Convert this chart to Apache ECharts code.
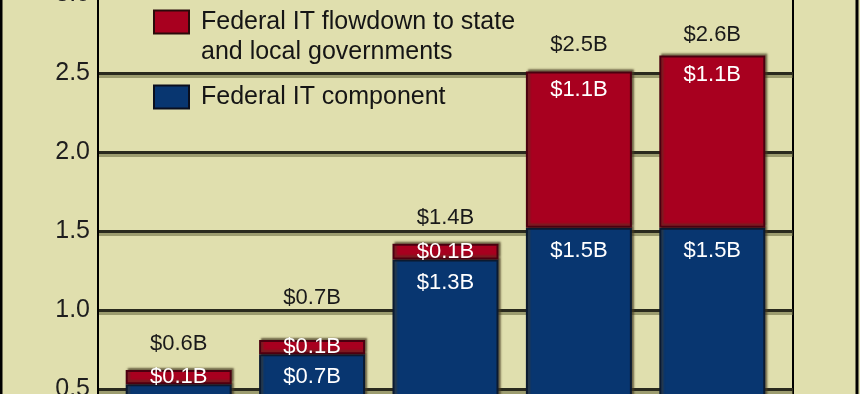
<!DOCTYPE html>
<html>
<head>
<meta charset="utf-8">
<script src="https://cdn.jsdelivr.net/npm/echarts@6/dist/echarts.min.js"></script>
<style>
html,body{margin:0;padding:0;background:#e0dfae;}
#chart{width:860px;height:394px;}
</style>
</head>
<body>
<div id="chart"></div>
<script>
// ---- data ----
var categories = ['Y1', 'Y2', 'Y3', 'Y4', 'Y5'];
var componentValues = [0.53, 0.72, 1.32, 1.52, 1.52];
var flowdownValues = [0.09, 0.09, 0.10, 0.99, 1.09];
var componentLabels = ['$0.5B', '$0.7B', '$1.3B', '$1.5B', '$1.5B'];
var flowdownLabels = ['$0.1B', '$0.1B', '$0.1B', '$1.1B', '$1.1B'];
var totalLabels = ['$0.6B', '$0.7B', '$1.4B', '$2.5B', '$2.6B'];
var yTickLabels = ['0.0', '0.5', '1.0', '1.5', '2.0', '2.5', '3.0'];
var nameComponent = 'Federal IT component';
var nameFlowdown = 'Federal IT flowdown to state and local governments';

// ---- styles ----
var FONT = '"Liberation Sans", Arial, sans-serif';
var BLUE = '#083670', RED = '#a8001f';
var totalOffsets = [[0, 0], [0, -16], [0, 0], [0, 0], [0, 5]];

var barShadow = {shadowColor: 'rgba(70,60,35,0.65)', shadowBlur: 2, shadowOffsetX: 2, shadowOffsetY: -2};

var chart = echarts.init(document.getElementById('chart'), null, {renderer: 'canvas'});

var option = {
  backgroundColor: '#e0dfae',
  animation: false,
  grid: [
    {left: 98, width: 695, top: -6, height: 474, outerBoundsMode: 'none', containLabel: false,
     show: true, borderColor: '#000', borderWidth: 2, backgroundColor: 'transparent'},
    {left: 112, width: 667, top: -6, height: 474, outerBoundsMode: 'none', containLabel: false}
  ],
  xAxis: [
    {gridIndex: 0, type: 'category', data: categories, show: false},
    {gridIndex: 1, type: 'category', data: categories, show: false}
  ],
  yAxis: [
    {
      gridIndex: 0, type: 'value', min: 0, max: 3, interval: 0.5,
      axisLine: {show: true, lineStyle: {color: '#000', width: 2}},
      axisTick: {show: false},
      axisLabel: {
        margin: 8, fontSize: 25, color: '#1e1e1e', fontFamily: FONT,
        formatter: function (v) { return yTickLabels[Math.round(v / 0.5)]; }
      },
      splitLine: {show: true, lineStyle: {color: '#2a2a1e', width: 3, shadowColor: 'rgba(100,100,60,0.55)', shadowBlur: 0, shadowOffsetY: 3}}
    },
    {gridIndex: 1, type: 'value', min: 0, max: 3, show: false, splitLine: {show: false}}
  ],
  legend: [
    {
      left: 148, top: -28, orient: 'vertical',
      data: [nameFlowdown],
      icon: 'rect',
      itemWidth: 35, itemHeight: 23,
      itemStyle: {color: RED, borderColor: '#2a0a0a', borderWidth: 2, shadowBlur: 0, shadowOffsetX: 0, shadowOffsetY: 0},
      formatter: function () { return ' \nFederal IT flowdown to state\nand local governments'; },
      textStyle: {fontSize: 25, color: '#151515', fontFamily: FONT, lineHeight: 30, padding: [0, 0, 0, 7]},
      selectedMode: false
    },
    {
      left: 148, top: 77, orient: 'vertical',
      data: [nameComponent],
      icon: 'rect',
      itemWidth: 35, itemHeight: 23,
      itemStyle: {color: BLUE, borderColor: '#0a0f1e', borderWidth: 2, shadowBlur: 0, shadowOffsetX: 0, shadowOffsetY: 0},
      textStyle: {fontSize: 25, color: '#151515', fontFamily: FONT, lineHeight: 30, padding: [0, 0, 0, 7]},
      selectedMode: false
    }
  ],
  series: [
    {
      name: nameComponent, type: 'bar', stack: 'total', xAxisIndex: 1, yAxisIndex: 1,
      barWidth: 106,
      data: componentValues,
      itemStyle: Object.assign({color: BLUE, borderColor: '#0b1a30', borderWidth: 2}, barShadow),
      label: {
        show: true, position: 'insideTop', distance: 12, color: '#fff', fontSize: 22, fontFamily: FONT,
        formatter: function (p) { return componentLabels[p.dataIndex]; }
      }
    },
    {
      name: nameFlowdown, type: 'bar', stack: 'total', xAxisIndex: 1, yAxisIndex: 1,
      barWidth: 106,
      data: flowdownValues.map(function (v) {
        return {value: v, label: {position: v < 0.3 ? 'inside' : 'insideTop', distance: 8}};
      }),
      itemStyle: Object.assign({color: RED, borderColor: '#4a0010', borderWidth: 2}, barShadow),
      label: {
        show: true, color: '#fff', fontSize: 22, fontFamily: FONT,
        formatter: function (p) { return flowdownLabels[p.dataIndex]; }
      }
    },
    {
      name: 'total', type: 'bar', stack: 'total', xAxisIndex: 1, yAxisIndex: 1,
      barWidth: 106,
      data: categories.map(function (c, i) { return {value: 0, label: {offset: totalOffsets[i]}}; }),
      itemStyle: {color: 'transparent', borderWidth: 0},
      label: {
        show: true, position: 'top', distance: 15, color: '#1a1a1a', fontSize: 22, fontFamily: FONT,
        formatter: function (p) { return totalLabels[p.dataIndex]; }
      },
      silent: true
    }
  ],
  graphic: [
    {type: 'line', shape: {x1: 1, y1: 0, x2: 1, y2: 394}, style: {stroke: '#000', lineWidth: 3}, silent: true},
    {type: 'line', shape: {x1: 857, y1: 0, x2: 857, y2: 394}, style: {stroke: '#000', lineWidth: 3}, silent: true}
  ]
};
chart.setOption(option);
</script>
</body>
</html>
